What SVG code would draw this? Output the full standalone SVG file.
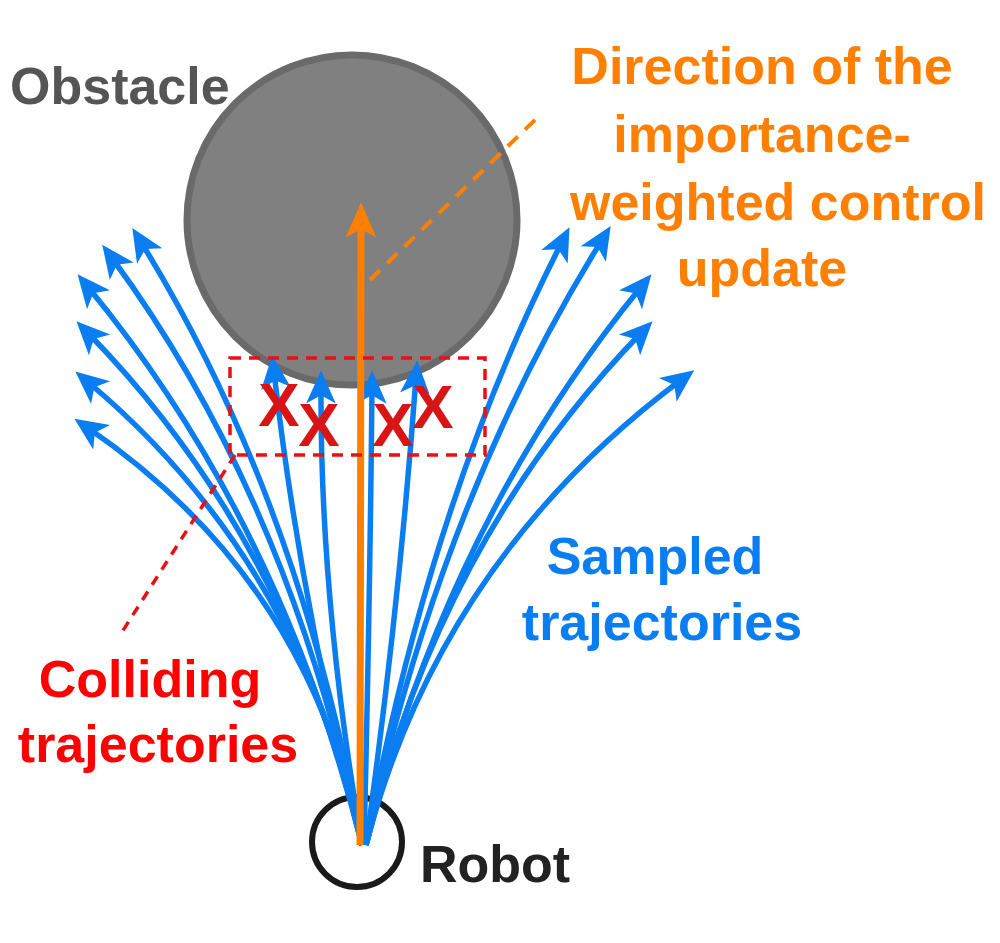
<svg xmlns="http://www.w3.org/2000/svg" width="1000" height="943" viewBox="0 0 1000 943">
<style>
.t{font-family:"Liberation Sans",Arial,sans-serif;font-weight:bold;font-size:52px}
.b{fill:none;stroke:#0a7ef0;stroke-width:5.5;marker-end:url(#ab)}
.x{font-family:"Liberation Sans",Arial,sans-serif;font-weight:bold;font-size:62px;fill:#d81414;text-anchor:middle}
</style>
<defs>
<marker id="ab" markerWidth="6" markerHeight="6" refX="3" refY="3" orient="auto"><path d="M0,0.3L6,3L0,5.7L1.5,3Z" fill="#0a7ef0"/></marker>
<marker id="ao" markerWidth="5" markerHeight="5" refX="2.5" refY="2.5" orient="auto"><path d="M0,0.3L5,2.5L0,4.7L1.2,2.5Z" fill="#ff8000"/></marker>
</defs>
<rect width="1000" height="943" fill="#fff"/>
<g id="obstacle"><circle cx="352" cy="220" r="165" fill="#808080" stroke="#6a6a6a" stroke-width="7"/>
<text class="t" x="10" y="104" fill="#555">Obstacle</text></g>
<g id="robot"><circle cx="357" cy="842" r="45" fill="none" stroke="#1a1a1a" stroke-width="6"/>
<text class="t" x="420" y="882" fill="#222">Robot</text></g>
<g id="connectors">
<path class="b" d="M362,845 Q300,500 141,242"/>
<path class="b" d="M362,845 Q290,500 112,258"/>
<path class="b" d="M362,845 Q280,520 88,287"/>
<path class="b" d="M362,845 Q290,540 88,333"/>
<path class="b" d="M362,845 Q300,560 88,382"/>
<path class="b" d="M362,845 Q310,580 88,428"/>
<path class="b" d="M362,845 Q300,600 274,372"/>
<path class="b" d="M362,845 Q320,600 321,387"/>
<path class="b" d="M364,845 Q370,600 372,387"/>
<path class="b" d="M366,845 Q400,600 416,377"/>
<path class="b" d="M366,845 Q430,500 562,242"/>
<path class="b" d="M366,845 Q440,500 602,240"/>
<path class="b" d="M366,845 Q450,520 641,287"/>
<path class="b" d="M366,845 Q440,540 641,333"/>
<path class="b" d="M366,845 Q440,560 681,380"/>
<path d="M360,845 L361,220" stroke="#ff8000" stroke-width="7" fill="none" marker-end="url(#ao)"/>
<path d="M370,280 L540,115" stroke="#ff8000" stroke-width="4" stroke-dasharray="14,10" fill="none"/>
<path d="M235,455 L122,632" stroke="#e81010" stroke-width="3.5" stroke-dasharray="10,8" fill="none"/>
</g>
<g id="collision">
<rect x="230" y="358" width="255" height="97" fill="none" stroke="#e81010" stroke-width="3.5" stroke-dasharray="11,8"/>
<text class="x" x="279" y="426">X</text><text class="x" x="319" y="446">X</text>
<text class="x" x="393" y="446">X</text><text class="x" x="433" y="428">X</text>
</g>
<g id="labels" class="t" text-anchor="middle">
<text x="762" y="84" fill="#ff8000">Direction of the</text>
<text x="762" y="152" fill="#ff8000">importance-</text>
<text x="778" y="220" fill="#ff8000">weighted control</text>
<text x="762" y="286" fill="#ff8000">update</text>
<text x="655" y="574" fill="#0a7ef0">Sampled</text>
<text x="662" y="640" fill="#0a7ef0">trajectories</text>
<text x="150" y="697" fill="#f00">Colliding</text>
<text x="158" y="762" fill="#f00">trajectories</text>
</g>
</svg>
